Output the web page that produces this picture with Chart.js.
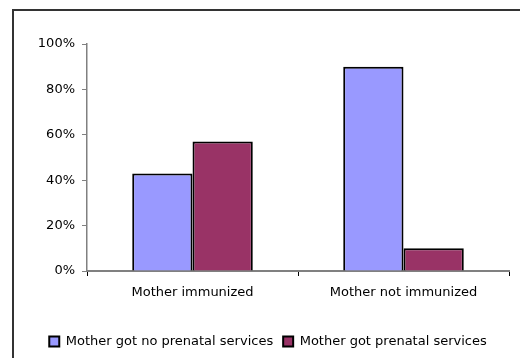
<!DOCTYPE html>
<html>
<head>
<meta charset="utf-8">
<script src="https://cdn.jsdelivr.net/npm/chart.js@4/dist/chart.umd.min.js"></script>
<style>
  html, body { margin: 0; padding: 0; background: #fff; overflow: hidden; }
  canvas { display: block; }
</style>
</head>
<body>
<canvas id="chart" width="520" height="358"></canvas>
<script>
// Share of children by mother's immunization and prenatal care
const categories = ['Mother immunized', 'Mother not immunized'];
const noPrenatal = [43, 90];
const gotPrenatal = [57, 10];
const seriesNames = ['Mother got no prenatal services', 'Mother got prenatal services'];
const yTicks = [0, 20, 40, 60, 80, 100];

const FONT = { family: '"DejaVu Sans", sans-serif', size: 13 };

// Outer frame: left edge and top edge running off the page
const framePlugin = {
  id: 'frame',
  beforeDraw(chart) {
    const ctx = chart.ctx;
    ctx.save();
    ctx.fillStyle = '#333';
    ctx.fillRect(12, 9, 2, chart.height - 9);
    ctx.fillRect(12, 9, chart.width - 12, 2);
    ctx.restore();
  }
};

new Chart(document.getElementById('chart'), {
  type: 'bar',
  data: {
    labels: categories,
    datasets: [
      { label: seriesNames[0], data: noPrenatal, backgroundColor: '#9999FF', borderColor: '#000', borderWidth: 2, inflateAmount: 0 },
      { label: seriesNames[1], data: gotPrenatal, backgroundColor: '#993366', borderColor: '#000', borderWidth: 2, inflateAmount: 0 }
    ]
  },
  options: {
    responsive: false,
    animation: false,
    devicePixelRatio: 1,
    layout: { padding: { left: 27, right: 11, top: 44, bottom: 0 } },
    datasets: { bar: { categoryPercentage: 2 / 3.5, barPercentage: 1 } },
    plugins: {
      tooltip: { enabled: false },
      legend: {
        position: 'bottom',
        labels: { boxWidth: 10, boxHeight: 10, padding: 10, color: '#000', font: FONT }
      }
    },
    scales: {
      x: {
        afterFit: s => { s.height = 54; },
        grid: { display: true, drawOnChartArea: false, drawTicks: true, tickLength: 5, color: '#000', offset: true },
        border: { color: '#808080', width: 2 },
        ticks: { color: '#000', font: FONT, padding: 9, maxRotation: 0 }
      },
      y: {
        min: 0, max: 100,
        afterFit: s => { s.width = 60; },
        afterBuildTicks: s => { s.ticks = yTicks.map(v => ({ value: v })); },
        grid: { display: true, drawOnChartArea: false, drawTicks: true, tickLength: 5, color: '#808080' },
        border: { color: '#808080', width: 1.5 },
        ticks: { color: '#000', font: FONT, padding: 7, callback: v => v + '%' }
      }
    }
  },
  plugins: [framePlugin]
});
</script>
</body>
</html>
